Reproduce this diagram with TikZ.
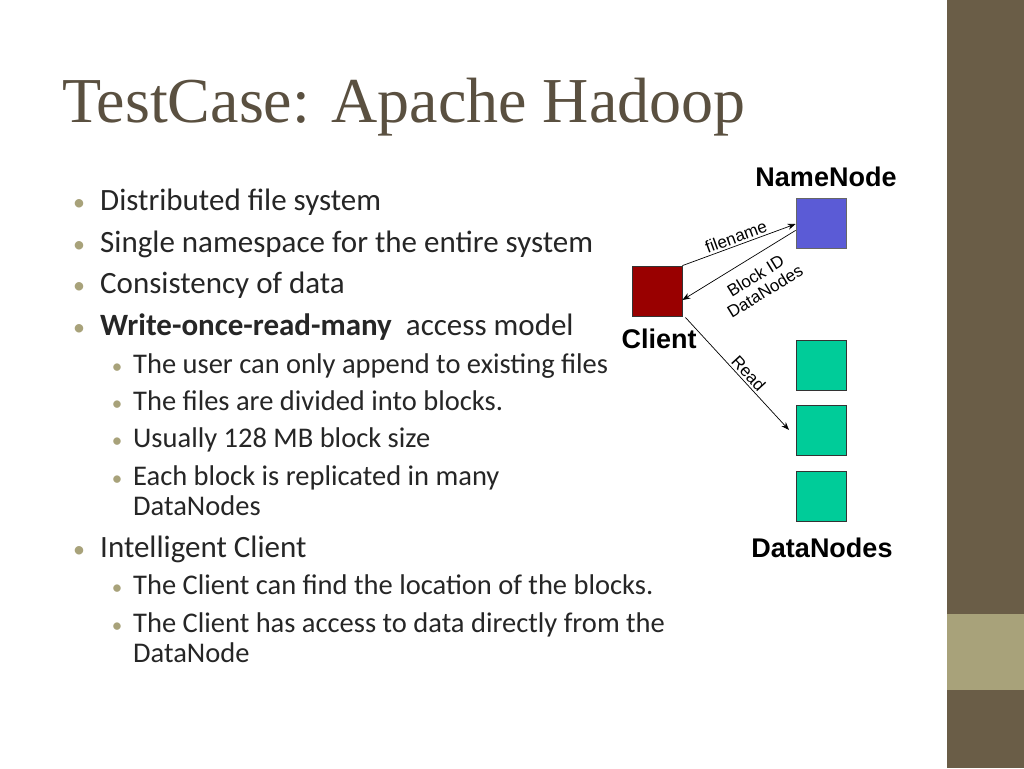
\documentclass[tikz,border=0pt]{standalone}
\usepackage{fontspec}
\setmainfont{Carlito}
\newfontfamily\titlefont{Liberation Serif}
\newfontfamily\arialfont{Liberation Sans}
\usetikzlibrary{arrows.meta}
\definecolor{barc}{HTML}{6A5D47}
\definecolor{barl}{HTML}{A8A27A}
\definecolor{titc}{HTML}{5A5040}
\definecolor{nnc}{HTML}{5B5BD6}
\definecolor{clc}{HTML}{990000}
\definecolor{dnc}{HTML}{00CC99}
\begin{document}
\begin{tikzpicture}[x=1pt,y=-1pt,
  box/.style={draw=black!60,line width=0.8pt,minimum size=50pt,inner sep=0pt},
  lone/.style={anchor=base west,inner sep=0pt,font=\fontsize{31}{33}\selectfont,text=black!85},
  ltwo/.style={anchor=base west,inner sep=0pt,font=\fontsize{28.5}{30}\selectfont,text=black!85},
  bul/.style={anchor=base,inner sep=0pt,text=barl},
  lab/.style={font=\arialfont\bfseries\fontsize{27}{29}\selectfont},
  alab/.style={font=\arialfont\fontsize{17}{18}\selectfont,inner sep=2pt},
  arr/.style={-{Stealth[length=8pt,width=6pt]},line width=0.7pt}]
\useasboundingbox (0,0) rectangle (1024,768);
\fill[white] (0,0) rectangle (1024,768);
\fill[barc] (947,0) rectangle (1024,768);
\fill[barl] (947,614) rectangle (1024,690);
\node[anchor=base west,inner sep=0pt,text=titc,font=\titlefont\fontsize{64}{68}\selectfont] (title) at (62,122) {TestCase: Apache Hadoop};
% level 1
\foreach \y/\t [count=\i] in {210/Distributed file system,252/Single namespace for the entire system,293/Consistency of data}{
  \node[bul,font=\fontsize{24}{26}\selectfont] (b\i) at (79,\y) {•};
  \node[lone] (t\i) at (100,\y) {\t};}
\node[bul,font=\fontsize{24}{26}\selectfont] (b4) at (79,335) {•};
\node[lone] (t4) at (100,335) {\textbf{Write-once-read-many}\ \ access model};
\node[bul,font=\fontsize{24}{26}\selectfont] (b5) at (79,557) {•};
\node[lone] (t5) at (100,557) {Intelligent Client};
% level 2
\foreach \y/\t [count=\i] in {373/The user can only append to existing files,410/The files are divided into blocks.,447/Usually 128 MB block size,485/Each block is replicated in many,594/The Client can find the location of the blocks.,632/The Client has access to data directly from the}{
  \node[bul,font=\fontsize{21}{23}\selectfont] (c\i) at (117,\y) {•};
  \node[ltwo] (s\i) at (133,\y) {\t};}
\node[ltwo] (s7) at (133,515) {DataNodes};
\node[ltwo] (s8) at (133,662) {DataNode};
% diagram
\node[box,fill=nnc] (nn) at (821,223) {};
\node[box,fill=clc,draw=black!80] (cl) at (657,291) {};
\node[box,fill=dnc,draw=black!80] (d1) at (821,365) {};
\node[box,fill=dnc,draw=black!80] (d2) at (821,430) {};
\node[box,fill=dnc,draw=black!80] (d3) at (821,496) {};
\node[lab] (nnl) at (826,177) {NameNode};
\node[lab] (cll) at (659,339) {Client};
\node[lab] (dnl) at (822,548) {DataNodes};
\coordinate (rd) at (789,430);
\draw[arr] (cl.north east) -- node[alab,sloped,above] {filename} ([yshift=-1pt]nn.west);
\draw[arr] ([yshift=18pt]nn.south west) -- node[alab,sloped,below,align=center,pos=0.42,yshift=-9pt,xshift=-2pt] {Block ID\\DataNodes} ([yshift=-9pt]cl.east);
\draw[arr] ([xshift=3pt,yshift=-1pt]cl.south east) -- node[alab,sloped,above,pos=0.55] {Read} (rd);
\end{tikzpicture}
\end{document}
